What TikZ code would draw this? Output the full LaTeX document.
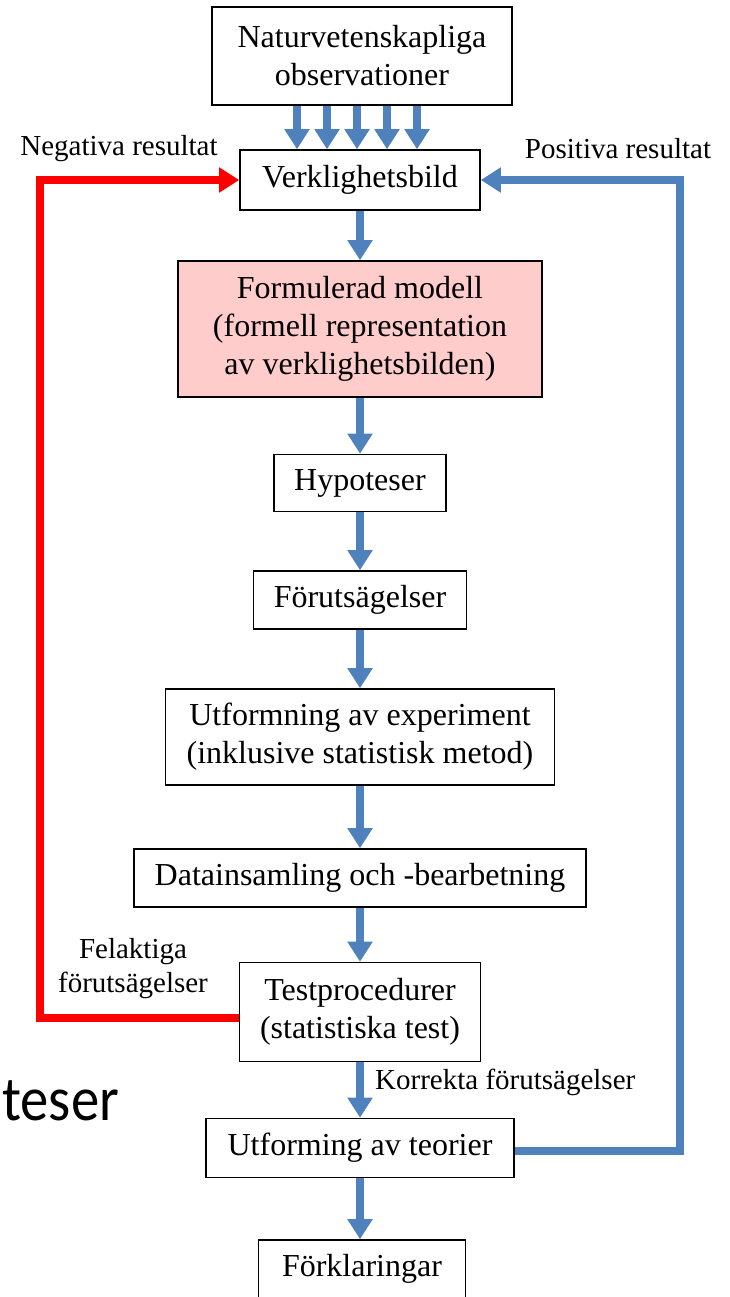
\documentclass[tikz,border=0pt]{standalone}
\usepackage{fontspec}
\setmainfont{Liberation Serif}
\newfontfamily\slidefont[FakeStretch=0.9]{Carlito}
\usetikzlibrary{arrows.meta, positioning}

\definecolor{flowblue}{HTML}{4F81BD}
\definecolor{modelpink}{HTML}{FFCCCC}

\begin{document}
\begin{tikzpicture}[x=1pt, y=-1pt,
    box/.style={draw=black, line width=1.6pt, fill=white, align=center, inner sep=0pt,
        font=\fontsize{32}{38}\selectfont},
    lbl/.style={align=center, inner sep=0pt, font=\fontsize{29}{34}\selectfont},
    bluearrow/.style={draw=flowblue, line width=8pt, -{Triangle[length=20pt,width=24pt]}},
    redarrow/.style={draw=red, line width=8pt, -{Triangle[length=20pt,width=24pt]}}]

\useasboundingbox (0,0) rectangle (729,1297);

% Slide text behind the diagram
\node[anchor=base west, inner sep=0pt, font=\slidefont\fontsize{63}{70}\selectfont] (slide) at (2,1120) {teser};

% Boxes
\node[box, minimum width=300pt, minimum height=98pt] (obs) at (362,56) {Naturvetenskapliga\\observationer};
\node[box, minimum width=240pt, minimum height=60pt] (bild) at (360,180) {Verklighetsbild};
\node[box, fill=modelpink, minimum width=364pt, minimum height=136pt] (modell) at (360,329) {Formulerad modell\\(formell representation\\av verklighetsbilden)};
\node[box, minimum width=172pt, minimum height=57pt] (hyp) at (360,483) {Hypoteser};
\node[box, minimum width=213pt, minimum height=58pt] (forut) at (360,600) {Förutsägelser};
\node[box, minimum width=389pt, minimum height=96pt] (exp) at (360,737) {Utformning av experiment\\(inklusive statistisk metod)};
\node[box, minimum width=452pt, minimum height=58pt] (data) at (360,878) {Datainsamling och -bearbetning};
\node[box, minimum width=241pt, minimum height=99pt] (test) at (360,1012) {Testprocedurer\\(statistiska test)};
\node[box, minimum width=308pt, minimum height=59pt] (teori) at (360,1148) {Utforming av teorier};
\node[box, minimum width=207pt, minimum height=58pt] (forkl) at (362,1269) {Förklaringar};

% Observations into the picture of reality
\foreach \x in {297,327,357,387,417}
    \draw[bluearrow] (\x,0 |- obs.south) -- (\x,0 |- bild.north);

% Main chain
\draw[bluearrow] (bild) -- (modell);
\draw[bluearrow] (modell) -- (hyp);
\draw[bluearrow] (hyp) -- (forut);
\draw[bluearrow] (forut) -- (exp);
\draw[bluearrow] (exp) -- (data);
\draw[bluearrow] (data) -- (test);
\draw[bluearrow] (test) -- (teori);
\draw[bluearrow] (teori) -- (teori |- forkl.north);

% Feedback loops
\coordinate (redin) at (40,1018);
\coordinate (blueout) at (680,1151);
\draw[redarrow] (test.west |- redin) -- (redin) |- (bild.west);
\draw[bluearrow] (teori.east |- blueout) -- (blueout) |- (bild.east);

% Labels
\node[lbl] (neg) at (119,149) {Negativa resultat};
\node[lbl] (pos) at (618,149) {Positiva resultat};
\node[lbl] (fel) at (133,969) {Felaktiga\\förutsägelser};
\node[lbl, anchor=west] (korr) at (375,1082) {Korrekta förutsägelser};

\end{tikzpicture}
\end{document}
